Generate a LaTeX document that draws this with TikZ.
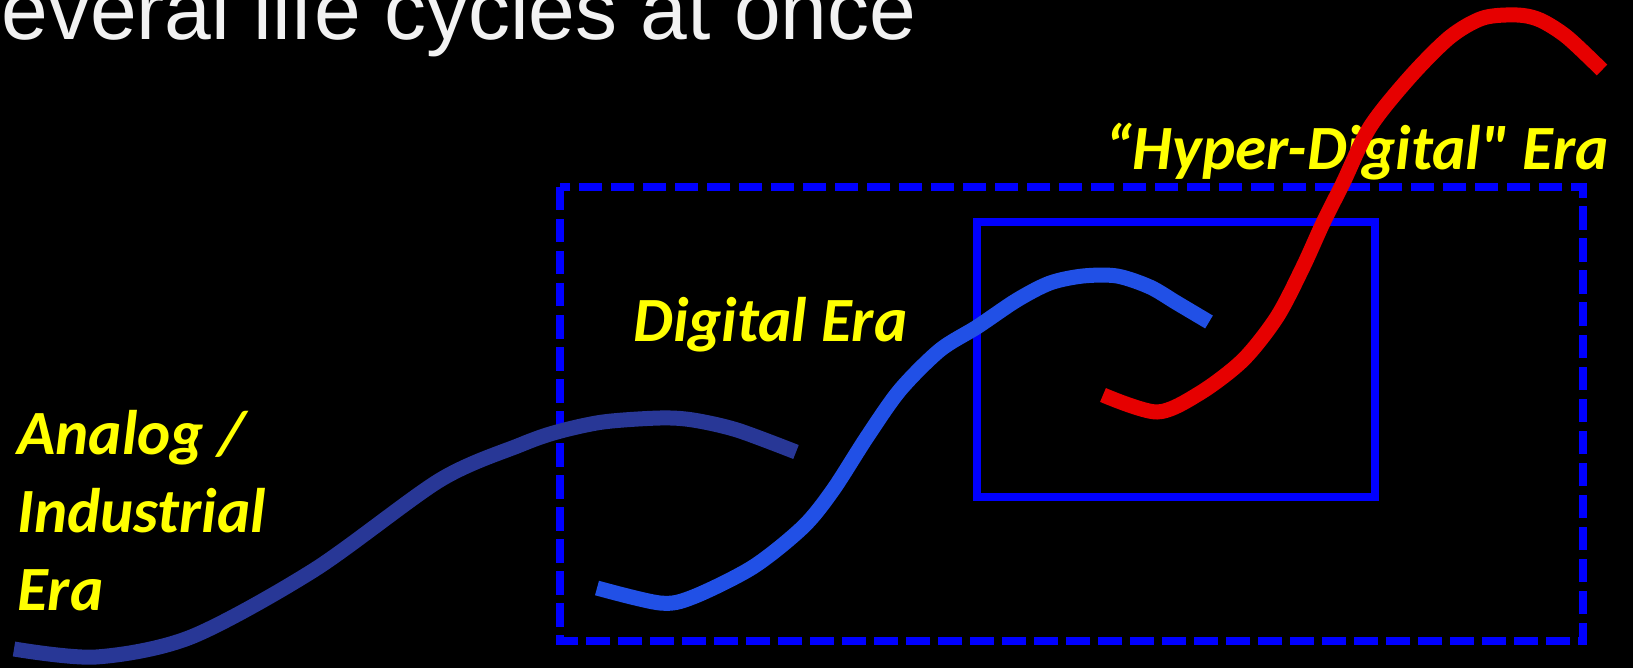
\documentclass[tikz,border=0pt]{standalone}
\usepackage{fontspec}
\setmainfont{Liberation Sans}
\newfontfamily\erafont{Carlito}[Ligatures=TeXOff]
\definecolor{titlegray}{RGB}{242,242,242}
\definecolor{erayellow}{RGB}{255,255,0}
\definecolor{boxblue}{RGB}{0,0,255}
\definecolor{analogblue}{RGB}{40,55,150}
\definecolor{digitalblue}{RGB}{33,80,230}
\definecolor{hyperred}{RGB}{230,0,0}

\begin{document}
\begin{tikzpicture}
    [x=0.5pt, y=-0.5pt,
    era/.style={font=\erafont\bfseries\itshape\fontsize{31.5}{39}\selectfont,
      text=erayellow, inner sep=0pt, align=left, anchor=base west},
    wave/.style={line width=7.5pt},
    window/.style={draw=boxblue, line width=4pt}]
  \useasboundingbox [fill=black] (0,0) rectangle (1633,668);

  \node [font=\fontsize{42}{48}\selectfont, text=titlegray, inner sep=0pt,
    anchor=base west] (title) at (1,40) {everal life cycles at once};

  % outer and inner windows
  \draw [window, dash pattern=on 11.75pt off 4.25pt] (560,187) rectangle (1583,641);
  \draw [window] (977,222) rectangle (1375,497);

  \node [era] (analog) at (17,610) {Analog /\\ Industrial\\ Era};
  \node [era] (digital) at (633,342) {Digital Era};
  \node [era] (hyper) at (1105,170) {“Hyper-Digital" Era};

  % one S-curve per era
  \draw [wave, analogblue] plot [smooth] coordinates {(14,649) (96,657) (191,637)
    (314,570) (440,480) (520,445) (557,432) (603,422) (660,418) (693,420)
    (737,430) (796,452)};
  \draw [wave, digitalblue] plot [smooth] coordinates {(597,588) (660,603)
    (693,597) (753,567) (803,527) (833,490) (867,437) (900,390) (940,350)
    (977,327) (1017,300) (1050,283) (1083,276) (1117,276) (1150,287)
    (1177,303) (1209,322)};
  \draw [wave, hyperred] plot [smooth] coordinates {(1103,395) (1157,412)
    (1200,393) (1243,360) (1277,317) (1303,267) (1323,223) (1343,183)
    (1370,127) (1410,77) (1450,37) (1483,18) (1517,15) (1540,20) (1567,37)
    (1602,70)};
\end{tikzpicture}
\end{document}
